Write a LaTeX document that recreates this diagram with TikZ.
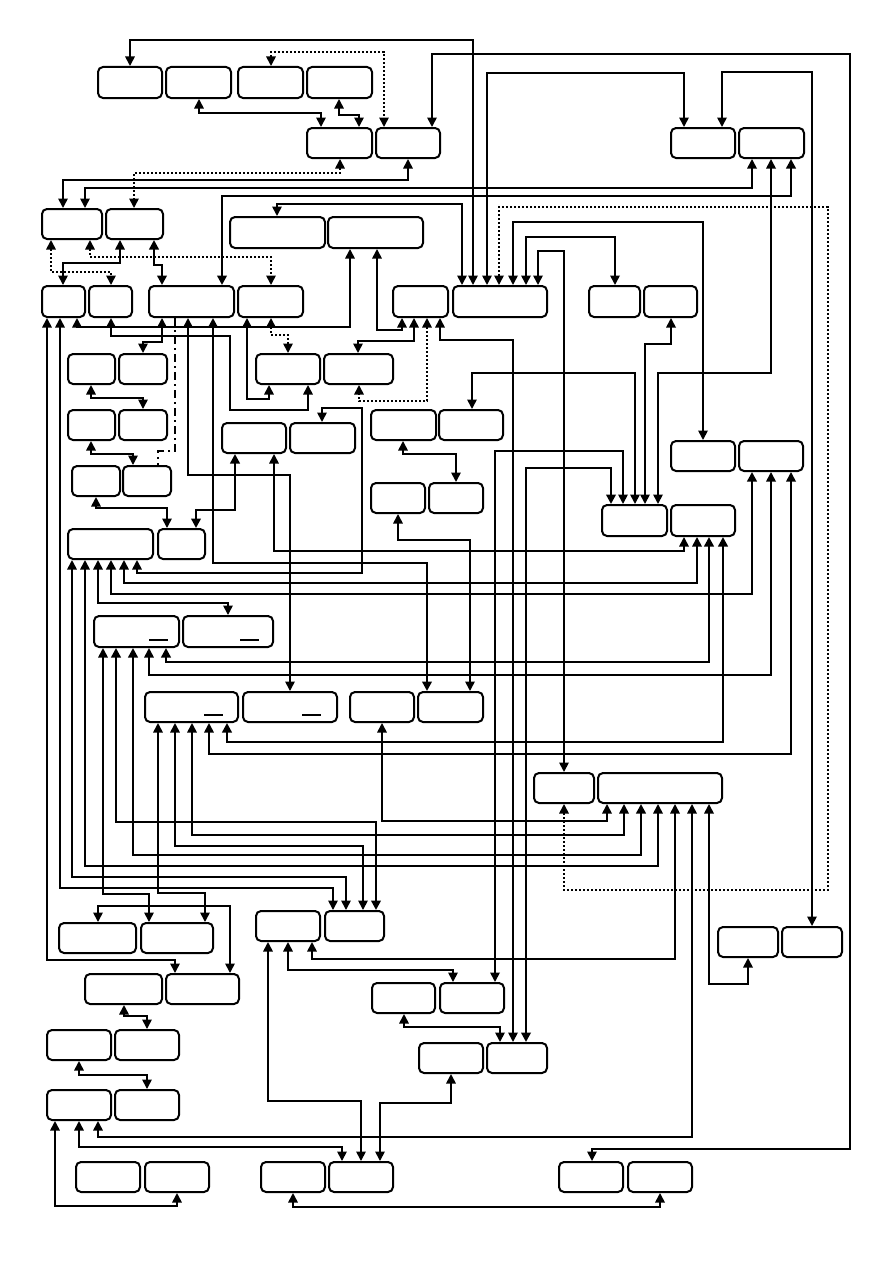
\documentclass[tikz,border=0pt]{standalone}
\usetikzlibrary{arrows.meta}
\begin{document}
\begin{tikzpicture}[x=1pt, y=-1pt, line width=1.7pt, >={Triangle[length=9.5pt,width=9.5pt]},
    box/.style={draw, rounded corners=5pt, line width=2pt, inner sep=0pt, minimum height=30pt},
    ref/.style={<->},
    dref/.style={<->, dash pattern=on 2pt off 2pt},
    heavy/.style={<->, line width=2.6pt}]
\useasboundingbox (0,0) rectangle (893,1263);
%nodes
\node[box, minimum width=64pt, minimum height=31pt] at (130,82.5) (a1) {};
\node[box, minimum width=65pt, minimum height=31pt] at (198.5,82.5) (a2) {};
\node[box, minimum width=65pt, minimum height=31pt] at (270.5,82.5) (a3) {};
\node[box, minimum width=65pt, minimum height=31pt] at (339.5,82.5) (a4) {};
\node[box, minimum width=65pt] at (339.5,143) (b1) {};
\node[box, minimum width=64pt] at (408,143) (b2) {};
\node[box, minimum width=64pt] at (703,143) (f1) {};
\node[box, minimum width=65pt] at (771.5,143) (f2) {};
\node[box, minimum width=60pt] at (72,224) (c1) {};
\node[box, minimum width=57pt] at (134.5,224) (c2) {};
\node[box, minimum width=95pt, minimum height=31pt] at (277.5,232.5) (d1) {};
\node[box, minimum width=95pt, minimum height=31pt] at (375.5,232.5) (d2) {};
\node[box, minimum width=43pt, minimum height=31pt] at (63.5,301.5) (e1) {};
\node[box, minimum width=43pt, minimum height=31pt] at (110.5,301.5) (e2) {};
\node[box, minimum width=85pt, minimum height=31pt] at (191.5,301.5) (e3) {};
\node[box, minimum width=65pt, minimum height=31pt] at (270.5,301.5) (e4) {};
\node[box, minimum width=55pt, minimum height=31pt] at (420.5,301.5) (e5) {};
\node[box, minimum width=94pt, minimum height=31pt] at (500,301.5) (e6) {};
\node[box, minimum width=51pt, minimum height=31pt] at (614.5,301.5) (e7) {};
\node[box, minimum width=53pt, minimum height=31pt] at (670.5,301.5) (e8) {};
\node[box, minimum width=47pt] at (91.5,369) (g1) {};
\node[box, minimum width=48pt] at (143,369) (g2) {};
\node[box, minimum width=64pt] at (288,369) (h1) {};
\node[box, minimum width=69pt] at (358.5,369) (h2) {};
\node[box, minimum width=47pt] at (91.5,425) (i1) {};
\node[box, minimum width=48pt] at (143,425) (i2) {};
\node[box, minimum width=65pt] at (403.5,425) (k1) {};
\node[box, minimum width=64pt] at (471,425) (k2) {};
\node[box, minimum width=64pt] at (254,438) (j1) {};
\node[box, minimum width=65pt] at (322.5,438) (j2) {};
\node[box, minimum width=64pt] at (703,456) (o1) {};
\node[box, minimum width=64pt] at (771,456) (o2) {};
\node[box, minimum width=48pt] at (96,481) (l1) {};
\node[box, minimum width=48pt] at (147,481) (l2) {};
\node[box, minimum width=54pt] at (398,498) (m1) {};
\node[box, minimum width=54pt] at (456,498) (m2) {};
\node[box, minimum width=65pt, minimum height=31pt] at (634.5,520.5) (p1) {};
\node[box, minimum width=64pt, minimum height=31pt] at (703,520.5) (p2) {};
\node[box, minimum width=85pt] at (110.5,544) (n1) {};
\node[box, minimum width=47pt] at (181.5,544) (n2) {};
\node[box, minimum width=85pt, minimum height=31pt] at (136.5,631.5) (q1) {};
\node[box, minimum width=90pt, minimum height=31pt] at (228,631.5) (q2) {};
\node[box, minimum width=93pt] at (191.5,707) (r1) {};
\node[box, minimum width=94pt] at (290,707) (r2) {};
\node[box, minimum width=64pt] at (382,707) (r3) {};
\node[box, minimum width=65pt] at (450.5,707) (r4) {};
\node[box, minimum width=60pt] at (564,788) (s1) {};
\node[box, minimum width=124pt] at (660,788) (s2) {};
\node[box, minimum width=64pt] at (288,926) (u1) {};
\node[box, minimum width=59pt] at (354.5,926) (u2) {};
\node[box, minimum width=77pt] at (97.5,938) (t1) {};
\node[box, minimum width=72pt] at (177,938) (t2) {};
\node[box, minimum width=60pt] at (748,942) (ac1) {};
\node[box, minimum width=60pt] at (812,942) (ac2) {};
\node[box, minimum width=77pt] at (123.5,989) (v1) {};
\node[box, minimum width=73pt] at (202.5,989) (v2) {};
\node[box, minimum width=63pt] at (403.5,998) (w1) {};
\node[box, minimum width=64pt] at (472,998) (w2) {};
\node[box, minimum width=64pt] at (79,1045) (x1) {};
\node[box, minimum width=64pt] at (147,1045) (x2) {};
\node[box, minimum width=64pt] at (451,1058) (y1) {};
\node[box, minimum width=60pt] at (517,1058) (y2) {};
\node[box, minimum width=64pt] at (79,1105) (z1) {};
\node[box, minimum width=64pt] at (147,1105) (z2) {};
\node[box, minimum width=64pt] at (108,1177) (aa1) {};
\node[box, minimum width=64pt] at (177,1177) (aa2) {};
\node[box, minimum width=64pt] at (293,1177) (ab1) {};
\node[box, minimum width=64pt] at (361,1177) (ab2) {};
\node[box, minimum width=64pt] at (591,1177) (ad1) {};
\node[box, minimum width=64pt] at (660,1177) (ad2) {};
% underscores in the boxes
\draw[line width=1.5pt] (149,640) -- (168,640) (240,640) -- (259,640)
    (204,715) -- (223,715) (302,715) -- (321,715);
% top part
\draw[ref] (130,0 |- a1.north) |- (473,40) -- (473,0 |- e6.north);
\draw[ref] (432,0 |- b2.north) |- (850,54) |- (592,1149) -- (592,0 |- ad1.north);
\draw[dref] (271,0 |- a3.north) |- (384,52) -- (384,0 |- b2.north);
\draw[ref] (199,0 |- a2.south) |- (321,113) -- (321,0 |- b1.north);
\draw[ref] (339,0 |- a4.south) |- (359,115) -- (359,0 |- b1.north);
\draw[dref] (340,0 |- b1.south) |- (134,173) -- (134,0 |- c2.north);
\draw[ref] (408,0 |- b2.south) |- (63,180) -- (63,0 |- c1.north);
\draw[ref] (85,0 |- c1.north) |- (752,188) -- (752,0 |- f2.south);
\draw[heavy] (222,0 |- e3.north) |- (791,196) -- (791,0 |- f2.south);
\draw[ref] (277,0 |- d1.north) |- (462,204) -- (462,0 |- e6.north);
\draw[ref] (771,0 |- f2.south) |- (658,373) -- (658,0 |- p1.north);
\draw[ref] (487,0 |- e6.north) |- (684,73) -- (684,0 |- f1.north);
\draw[ref] (722,0 |- f2.north) |- (812,72) -- (812,0 |- ac2.north);
\draw[dref] (499,0 |- e6.north) |- (828,207) |- (564,890) -- (564,0 |- s1.south);
\draw[ref] (513,0 |- e6.north) |- (703,222) -- (703,0 |- o1.north);
\draw[ref] (526,0 |- e6.north) |- (615,237) -- (615,0 |- e7.north);
\draw[ref] (538,0 |- e6.north) |- (564,251) -- (564,0 |- s1.north);
\draw[ref] (671,0 |- e8.south) |- (645,344) -- (645,0 |- p1.north);
\draw[dref] (51,0 |- c1.south) |- (111,272) -- (111,0 |- e2.north);
\draw[dref] (90,0 |- c1.south) |- (271,257) -- (271,0 |- e4.north);
\draw[ref] (120,0 |- c2.south) |- (63,263) -- (63,0 |- e1.north);
\draw[heavy] (154,0 |- c2.south) |- (162,265) -- (162,0 |- e3.north);
\draw[ref] (350,0 |- d2.south) |- (77,327) -- (77,0 |- e1.south);
\draw[ref] (377,0 |- d2.south) |- (402,330) -- (402,0 |- e5.south);
% middle part
\draw[ref] (414,0 |- e5.south) |- (358,341) -- (358,0 |- h2.north);
\draw[dref] (427,0 |- e5.south) |- (359,401) -- (359,0 |- h2.south);
\draw[ref] (440,0 |- e5.south) |- (513,340) -- (513,0 |- y2.north);
\draw[dash pattern=on 8pt off 4pt on 2pt off 4pt] (175,0 |- e3.south) |- (158,451) -- (158,0 |- l2.north);
\draw[ref] (111,0 |- e2.south) |- (230,336) |- (308,410) -- (308,0 |- h1.south);
\draw[ref] (162,0 |- e3.south) |- (143,342) -- (143,0 |- g2.north);
\draw[ref] (188,0 |- e3.south) |- (290,475) -- (290,0 |- r2.north);
\draw[heavy] (213,0 |- e3.south) |- (427,563) -- (427,0 |- r4.north);
\draw[ref] (247,0 |- e4.south) |- (269,399) -- (269,0 |- h1.south);
\draw[dref] (271,0 |- e4.south) |- (288,335) -- (288,0 |- h1.north);
\draw[ref] (91,0 |- g1.south) |- (143,398) -- (143,0 |- i2.north);
\draw[ref] (91,0 |- i1.south) |- (133,454) -- (133,0 |- l2.north);
\draw[ref] (96,0 |- l1.south) |- (167,508) -- (167,0 |- n2.north);
\draw[heavy] (235,0 |- j1.south) |- (196,510) -- (196,0 |- n2.north);
\draw[ref] (274,0 |- j1.south) |- (684,551) -- (684,0 |- p2.south);
\draw[ref] (322,0 |- j2.north) |- (362,408) |- (137,573) -- (137,0 |- n1.south);
\draw[ref] (403,0 |- k1.south) |- (456,454) -- (456,0 |- m2.north);
\draw[ref] (472,0 |- k2.north) |- (635,373) -- (635,0 |- p1.north);
\draw[ref] (398,0 |- m1.south) |- (470,540) -- (470,0 |- r4.north);
\draw[ref] (623,0 |- p1.north) |- (495,451) -- (495,0 |- w2.north);
\draw[heavy] (611,0 |- p1.north) |- (526,468) -- (526,0 |- y2.north);
\draw[ref] (124,0 |- n1.south) |- (697,583) -- (697,0 |- p2.south);
\draw[heavy] (111,0 |- n1.south) |- (752,594) -- (752,0 |- o2.south);
\draw[ref] (98,0 |- n1.south) |- (228,603) -- (228,0 |- q2.north);
\draw[ref] (85,0 |- n1.south) |- (658,866) -- (658,0 |- s2.south);
\draw[ref] (72,0 |- n1.south) |- (346,877) -- (346,0 |- u2.north);
\draw[ref] (60,0 |- e1.south) |- (333,888) -- (333,0 |- u2.north);
\draw[ref] (47,0 |- e1.south) |- (175,960) -- (175,0 |- v2.north);
% lower part
\draw[heavy] (166,0 |- q1.south) |- (709,662) -- (709,0 |- p2.south);
\draw[ref] (149,0 |- q1.south) |- (771,675) -- (771,0 |- o2.south);
\draw[heavy] (133,0 |- q1.south) |- (641,855) -- (641,0 |- s2.south);
\draw[heavy] (116,0 |- q1.south) |- (376,822) -- (376,0 |- u2.north);
\draw[ref] (103,0 |- q1.south) |- (149,894) -- (149,0 |- t2.north);
\draw[heavy] (227,0 |- r1.south) |- (723,742) -- (723,0 |- p2.south);
\draw[ref] (209,0 |- r1.south) |- (791,754) -- (791,0 |- o2.south);
\draw[ref] (192,0 |- r1.south) |- (624,835) -- (624,0 |- s2.south);
\draw[ref] (175,0 |- r1.south) |- (363,846) -- (363,0 |- u2.north);
\draw[ref] (158,0 |- r1.south) |- (205,893) -- (205,0 |- t2.north);
\draw[ref] (382,0 |- r3.south) |- (607,821) -- (607,0 |- s2.south);
\draw[ref] (675,0 |- s2.south) |- (312,959) -- (312,0 |- u1.south);
\draw[ref] (692,0 |- s2.south) |- (98,1137) -- (98,0 |- z1.south);
\draw[ref] (709,0 |- s2.south) |- (748,984) -- (748,0 |- ac1.south);
\draw[ref] (98,0 |- t1.north) |- (230,906) -- (230,0 |- v2.north);
\draw[ref] (288,0 |- u1.south) |- (453,970) -- (453,0 |- w2.north);
\draw[ref] (404,0 |- w1.south) |- (500,1027) -- (500,0 |- y2.north);
\draw[ref] (451,0 |- y1.south) |- (380,1103) -- (380,0 |- ab2.north);
\draw[ref] (268,0 |- u1.south) |- (361,1101) -- (361,0 |- ab2.north);
\draw[ref] (79,0 |- z1.south) |- (342,1147) -- (342,0 |- ab2.north);
\draw[ref] (55,0 |- z1.south) |- (177,1206) -- (177,0 |- aa2.south);
\draw[ref] (293,0 |- ab1.south) |- (660,1207) -- (660,0 |- ad2.south);
\draw[ref] (124,0 |- v1.south) |- (147,1016) -- (147,0 |- x2.north);
\draw[ref] (79,0 |- x1.south) |- (147,1075) -- (147,0 |- z2.north);
\end{tikzpicture}
\end{document}
